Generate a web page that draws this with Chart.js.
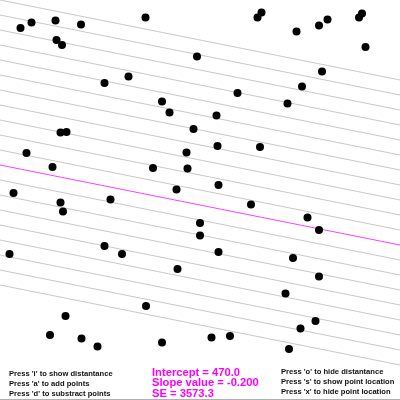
<!DOCTYPE html>
<html lang="en">
<head>
    <meta charset="UTF-8">
    <title>Least squares line</title>
    <script src="https://cdn.jsdelivr.net/npm/chart.js"></script>
    <style>
        body {
            margin: 0;
            padding: 0;
            background-color: #fff;
        }
        .wrap {
            position: relative;
            width: 400px;
            height: 400px;
            overflow: hidden;
        }
        .wrap canvas {
            position: absolute;
            left: 0;
            top: 0;
        }
        .bottom-rule {
            position: absolute;
            left: 0;
            top: 399px;
            width: 400px;
            height: 1px;
            background-color: #b0b0b0;
        }
        .help {
            position: absolute;
            font-family: "Liberation Sans", Arial, sans-serif;
            font-weight: bold;
            font-size: 7.6px;
            line-height: 10px;
            color: #111;
            white-space: nowrap;
        }
        .stats {
            position: absolute;
            left: 152px;
            top: 367px;
            font-family: "Liberation Sans", Arial, sans-serif;
            font-weight: bold;
            font-size: 11.2px;
            line-height: 10.3px;
            color: #ff00ff;
            white-space: nowrap;
        }
    </style>
</head>
<body>
    <div class="wrap">
        <canvas id="fitChart" width="400" height="400"></canvas>
        <div class="help" style="left:9px; top:369px;" id="helpLeft"></div>
        <div class="stats" id="stats"></div>
        <div class="help" style="left:281px; top:367px;" id="helpRight"></div>
        <div class="bottom-rule"></div>
    </div>

    <script>
        // point positions (x right, y up, 0..800 space)
        const pointX = [41, 63, 111, 162, 291, 113, 124, 394, 257, 209, 324, 339, 387, 121, 133, 53,
            373, 105, 306, 375, 353, 27, 221, 121, 126, 400, 400, 209, 19, 244, 355, 292, 131, 100,
            163, 195, 324, 523, 515, 593, 655, 638, 724, 718, 731, 644, 604, 475, 575, 433, 435, 520,
            437, 502, 615, 638, 437, 586, 638, 571, 631, 601, 423, 460, 578];
        const pointY = [744, 755, 759, 751, 765, 720, 710, 687, 647, 634, 597, 575, 542, 535, 536, 494,
            495, 466, 464, 463, 421, 414, 401, 395, 377, 354, 329, 308, 292, 292, 262, 188, 168, 130,
            123, 107, 115, 775, 765, 737, 761, 749, 773, 765, 706, 657, 627, 614, 593, 569, 508, 506,
            430, 391, 365, 340, 296, 284, 247, 213, 158, 143, 125, 128, 102];

        // fitted line and the grey family of candidate lines
        const slope = -0.2;
        const intercept = 470.0;
        const se = 3573.3;
        const greyIntercepts = [230, 260, 290, 320, 350, 380, 410, 440, 500, 530,
            560, 590, 620, 650, 680, 710, 740, 770, 800];
        const lineX = [0, 800];

        const helpLeft = ["Press 'i' to show distantance", "Press 'a' to add points", "Press 'd' to substract points"];
        const helpRight = ["Press 'o' to hide distantance", "Press 's' to show point location", "Press 'x' to hide point location"];

        document.getElementById('helpLeft').innerHTML = helpLeft.join('<br>');
        document.getElementById('helpRight').innerHTML = helpRight.join('<br>');
        document.getElementById('stats').innerHTML =
            'Intercept = ' + intercept.toFixed(1) + '<br>' +
            'Slope value = ' + slope.toFixed(3) + '<br>' +
            'SE = ' + se.toFixed(1);

        const lineData = (b) => lineX.map(x => ({ x: x, y: b + slope * x }));

        const greyLines = greyIntercepts.map(b => ({
            type: 'line',
            data: lineData(b),
            borderColor: '#c8c8c8',
            borderWidth: 1,
            pointRadius: 0,
            fill: false,
            order: 2
        }));

        const ctx = document.getElementById('fitChart').getContext('2d');
        const fitChart = new Chart(ctx, {
            type: 'scatter',
            data: {
                datasets: [
                    {
                        label: 'points',
                        data: pointX.map((x, i) => ({ x: x, y: pointY[i] })),
                        backgroundColor: '#000',
                        borderWidth: 0,
                        pointRadius: 4,
                        order: 0
                    },
                    {
                        type: 'line',
                        label: 'fit',
                        data: lineData(intercept),
                        borderColor: '#ff40ff',
                        borderWidth: 1,
                        pointRadius: 0,
                        fill: false,
                        order: 1
                    },
                    ...greyLines
                ]
            },
            options: {
                responsive: false,
                animation: false,
                clip: false,
                layout: { padding: 0, autoPadding: false },
                plugins: { legend: { display: false }, tooltip: { enabled: false } },
                scales: {
                    x: { type: 'linear', min: 0, max: 800, display: false },
                    y: { type: 'linear', min: 0, max: 800, display: false }
                }
            }
        });
    </script>
</body>
</html>
